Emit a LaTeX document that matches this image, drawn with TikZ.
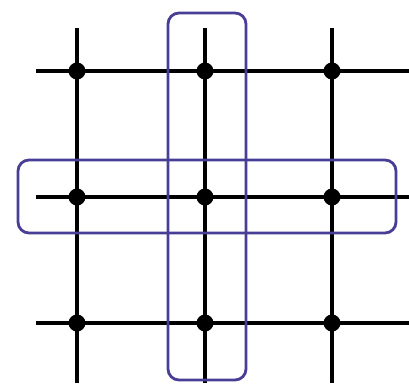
\documentclass[tikz,border=0pt]{standalone}
\begin{document}
\begin{tikzpicture}[x=1pt,y=-1pt,
  gridline/.style={line width=4.2pt,black},
  dot/.style={circle,fill=black,inner sep=0pt,minimum size=17pt},
  loopbox/.style={draw=blueframe,line width=2.8pt,rounded corners=11pt}]
\definecolor{blueframe}{RGB}{72,62,150}
\useasboundingbox (0,0) rectangle (409,383);
% end coordinates
\foreach \i/\x in {1/77,2/205,3/332}{
  \coordinate (t\i) at (\x,28);
  \coordinate (b\i) at (\x,383);
}
\foreach \j/\y in {1/71,2/197,3/323}{
  \coordinate (l\j) at (36,\y);
  \coordinate (r\j) at (409,\y);
}
\foreach \i in {1,2,3}{
  \draw[gridline] (t\i) -- (b\i);
  \draw[gridline] (l\i) -- (r\i);
}
\foreach \i/\x in {1/77,2/205,3/332}{
  \foreach \j/\y in {1/71,2/197,3/323}{
    \node[dot] (d\i\j) at (\x,\y) {};
  }
}
\draw[loopbox] (168,13) rectangle (246,380);
\draw[loopbox] (18,160) rectangle (396,233);
\end{tikzpicture}
\end{document}
